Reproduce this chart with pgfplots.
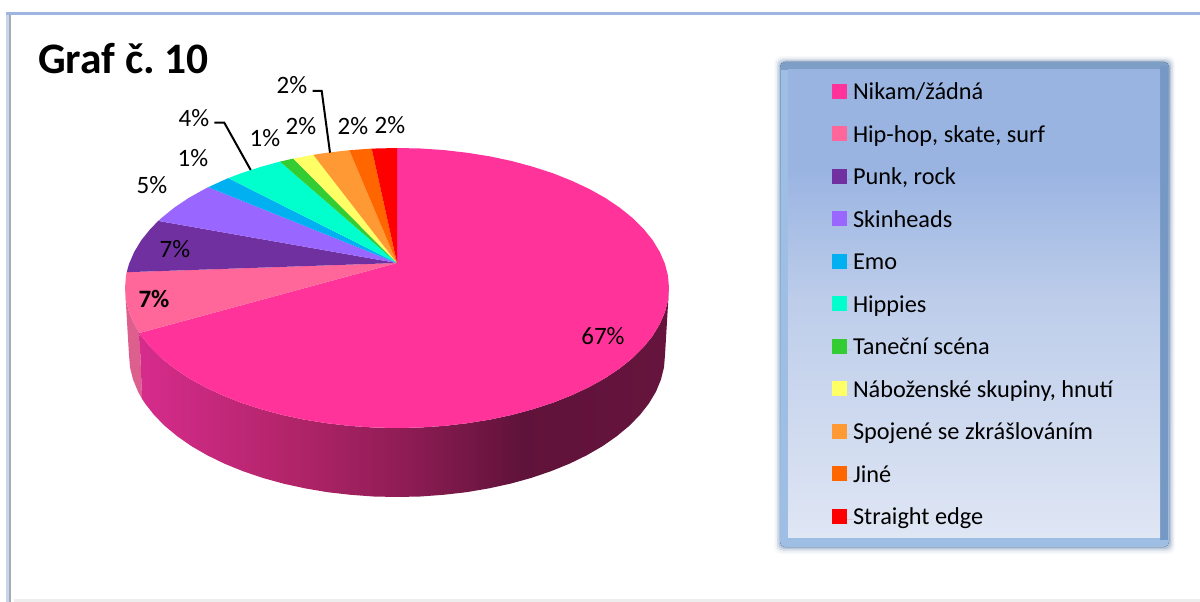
\documentclass[border=0pt]{standalone}
\usepackage{pgfplots}
\pgfplotsset{compat=1.18}
\usepackage{fontspec}
\setmainfont{Carlito}
\frenchspacing
\definecolor{cMag}{HTML}{FF3399}
\definecolor{cPink}{HTML}{FF6699}
\definecolor{cPur}{HTML}{7030A0}
\definecolor{cVio}{HTML}{9966FF}
\definecolor{cBlu}{HTML}{00B0F0}
\definecolor{cTea}{HTML}{00FFCC}
\definecolor{cGre}{HTML}{33CC33}
\definecolor{cYel}{HTML}{FFFF66}
\definecolor{cLor}{HTML}{FF9933}
\definecolor{cOra}{HTML}{FF6600}
\definecolor{cRed}{HTML}{FF0000}
\definecolor{sA}{HTML}{D62C8C}
\definecolor{sB}{HTML}{B02468}
\definecolor{sC}{HTML}{8F1C55}
\definecolor{sD}{HTML}{60133A}
\definecolor{sE}{HTML}{66143D}
\definecolor{sPink}{HTML}{DC5F8E}
\definecolor{lA}{HTML}{DFE6F4}
\definecolor{lB}{HTML}{BDCDEA}
\definecolor{lC}{HTML}{9AB4E2}
\definecolor{fA}{HTML}{9EBFE3}
\definecolor{fB}{HTML}{7C9EC7}
\definecolor{fC}{HTML}{7598C4}
\definecolor{gA}{HTML}{F8F9FB}
\definecolor{gB}{HTML}{EDF0F4}
\definecolor{gC}{HTML}{D6DEE8}
\definecolor{gD}{HTML}{B8C8DC}
\definecolor{oA}{HTML}{9DB5E0}
\definecolor{oB}{HTML}{C5D6F0}
\definecolor{oC}{HTML}{ABABAB}
\definecolor{oD}{HTML}{EDEDED}
\pgfdeclarehorizontalshading{sidegrad}{100bp}{
 color(0bp)=(sA); color(25bp)=(sA); color(40bp)=(sB); color(50bp)=(sC);
 color(61bp)=(sD); color(75bp)=(sE); color(100bp)=(sE)}
\pgfdeclareverticalshading{legbg}{100bp}{
 color(0bp)=(lA); color(25bp)=(lA); color(50.4bp)=(lB); color(64.3bp)=(lC); color(100bp)=(lC)}
\pgfdeclareverticalshading{legframe}{100bp}{
 color(0bp)=(fA); color(25bp)=(fA); color(75bp)=(fB); color(100bp)=(fB)}
\newcommand{\lab}[1]{\fontsize{25}{27}\selectfont #1}
\begin{document}
\begin{tikzpicture}
\begin{axis}[
  scale only axis, width=1200pt, height=602pt,
  xmin=0, xmax=1200, ymin=0, ymax=602, y dir=reverse,
  hide axis, enlargelimits=false,
  legend cell align=left,
  legend image code/.code={\path[#1] (0pt,-4pt) rectangle (15pt,11pt);\path (0pt,0pt) -- (21pt,0pt);},
  legend style={at={(axis cs:832,83.5)}, anchor=north west, draw=none, fill=none,
    inner sep=0pt, outer sep=0pt, row sep=21.5pt,
    font=\fontsize{24.3}{26}\selectfont,
    nodes={inner sep=0pt, outer sep=0pt, text height=15pt, text depth=5pt},
    /tikz/every even column/.append style={column sep=0pt}},
]
% page and outer frame
\fill[white] (0,0) rectangle (1200,602);
\fill[oB] (6,12) rectangle (9,602);
\fill[oC] (9,15) rectangle (11,602);
\fill[oA] (6,12) rectangle (1200,15);
\fill[oD] (14,599) rectangle (1200,602);
% legend panel
\fill[gA,rounded corners=7pt] (774,56) rectangle (1175,554);
\fill[gB,rounded corners=7pt] (775.5,57.5) rectangle (1174,552.5);
\fill[gC,rounded corners=6pt] (777,59) rectangle (1172.5,550.5);
\fill[gD,rounded corners=6pt] (778.5,60.5) rectangle (1171,549);
\fill[shading=legframe,rounded corners=5pt] (780,62) rectangle (1169,547);
\fill[fC] (1160,66) rectangle (1168,540);
\fill[fA] (781,70) rectangle (788,540);
\fill[shading=legbg] (788,70) rectangle (1160,537);
% side of the pie
\addplot[forget plot, draw=none, fill=sPink] coordinates {
 (125,288)(126,300.2)(129.1,312.3)(134.3,324.2)(139.4,333)(142.1,398.9)(138.1,391.8)(133.1,379.7)(130,367.4)(129,355)(125,288)};
\addplot[forget plot, draw=none, shading=sidegrad] coordinates {
 (669,288)(668,300.2)(664.9,312.3)(659.7,324.2)(652.6,335.9)(643.5,347.2)(632.6,358)(619.8,368.3)(605.4,378)(589.3,387)(571.8,395.2)(553,402.7)(533,409.2)(512,414.9)(490,419.6)(467.4,423.2)(444.2,425.9)(420.7,427.5)(397,428)(373.3,427.5)(349.8,425.9)(326.6,423.2)(304,419.6)(282,414.9)(261,409.2)(241,402.7)(222.2,395.2)(204.7,387)(188.6,378)(174.2,368.3)(161.4,358)(150.5,347.2)(141.4,335.9)(139.4,333)
 (142.1,398.9)(145.2,403.6)(154.1,415)(164.9,426)(177.5,436.4)(191.7,446.3)(207.5,455.4)(224.7,463.8)(243.3,471.3)(263,478)(283.7,483.7)(305.3,488.4)(327.6,492.2)(350.5,494.8)(373.6,496.5)(397,497)(420.4,496.5)(443.5,494.8)(466.4,492.2)(488.7,488.4)(510.3,483.7)(531,478)(550.7,471.3)(569.3,463.8)(586.5,455.4)(602.3,446.3)(616.5,436.4)(629.1,426)(639.9,415)(648.8,403.6)(655.9,391.8)(660.9,379.7)(664,367.4)(665,355)(669,288)};
% top face, one wedge per category
\addplot[draw=none, fill=cMag] coordinates {
 (397,263)(397,148)(420.7,148.5)(444.2,150.1)(467.4,152.8)(490,156.4)(512,161.1)(533,166.8)(553,173.3)(571.8,180.8)(589.3,189)(605.4,198)(619.8,207.7)(632.6,218)(643.5,228.8)(652.6,240.1)(659.7,251.8)(664.9,263.7)(668,275.8)(669,288)(668,300.2)(664.9,312.3)(659.7,324.2)(652.6,335.9)(643.5,347.2)(632.6,358)(619.8,368.3)(605.4,378)(589.3,387)(571.8,395.2)(553,402.7)(533,409.2)(512,414.9)(490,419.6)(467.4,423.2)(444.2,425.9)(420.7,427.5)(397,428)(373.3,427.5)(349.8,425.9)(326.6,423.2)(304,419.6)(282,414.9)(261,409.2)(241,402.7)(222.2,395.2)(204.7,387)(188.6,378)(174.2,368.3)(161.4,358)(150.5,347.2)(141.4,335.9)(139.4,333)(397,263)};
\addlegendentry{Nikam/žádná}
\addplot[draw=none, fill=cPink] coordinates {
 (397,263)(126.7,272.2)(126,275.8)(125,288)(126,300.2)(129.1,312.3)(134.3,324.2)(139.4,333)(397,263)};
\addlegendentry{Hip-hop, skate, surf}
\addplot[draw=none, fill=cPur] coordinates {
 (397,263)(158.3,220.9)(150.5,228.8)(141.4,240.1)(134.3,251.8)(129.1,263.7)(126.7,272.2)(397,263)};
\addlegendentry{Punk, rock}
\addplot[draw=none, fill=cVio] coordinates {
 (397,263)(208.3,187.2)(204.7,189)(188.6,198)(174.2,207.7)(161.4,218)(158.3,220.9)(397,263)};
\addlegendentry{Skinheads}
\addplot[draw=none, fill=cBlu] coordinates {
 (397,263)(228.3,178.1)(222.2,180.8)(208.3,187.2)(397,263)};
\addlegendentry{Emo}
\addplot[draw=none, fill=cTea] coordinates {
 (397,263)(280,161.6)(261,166.8)(241,173.3)(228.3,178.1)(397,263)};
\addlegendentry{Hippies}
\addplot[draw=none, fill=cGre] coordinates {
 (397,263)(293.3,158.6)(280,161.6)(397,263)};
\addlegendentry{Taneční scéna}
\addplot[draw=none, fill=cYel] coordinates {
 (397,263)(313.3,154.8)(293.3,158.6)(397,263)};
\addlegendentry{Náboženské skupiny, hnutí}
\addplot[draw=none, fill=cLor] coordinates {
 (397,263)(349.3,150.2)(326.6,152.8)(313.3,154.8)(397,263)};
\addlegendentry{Spojené se zkrášlováním}
\addplot[draw=none, fill=cOra] coordinates {
 (397,263)(371.7,148.6)(349.3,150.2)(397,263)};
\addlegendentry{Jiné}
\addplot[draw=none, fill=cRed] coordinates {
 (397,263)(397,148)(371.7,148.6)(397,263)};
\addlegendentry{Straight edge}
% leader lines
\addplot[forget plot, black, line width=2pt] coordinates {(312.7,91)(321.7,91)(330,152.7)};
\addplot[forget plot, black, line width=2pt] coordinates {(214.3,122.7)(224.3,122.7)(250.7,170)};
% data labels
\node at (603,336) {\lab{67\%}};
\node at (154,299) {\lab{\bfseries 7\%}};
\node at (175,249) {\lab{7\%}};
\node at (152,185) {\lab{5\%}};
\node at (193,158) {\lab{1\%}};
\node at (194,118) {\lab{4\%}};
\node at (265,138) {\lab{1\%}};
\node at (301,126) {\lab{2\%}};
\node at (292,85) {\lab{2\%}};
\node at (353,126) {\lab{2\%}};
\node at (390,125) {\lab{2\%}};
\node[anchor=base west, inner sep=0pt] at (38,74) {\fontsize{43.5}{48}\selectfont\bfseries Graf č. 10};
\end{axis}
\end{tikzpicture}
\end{document}
